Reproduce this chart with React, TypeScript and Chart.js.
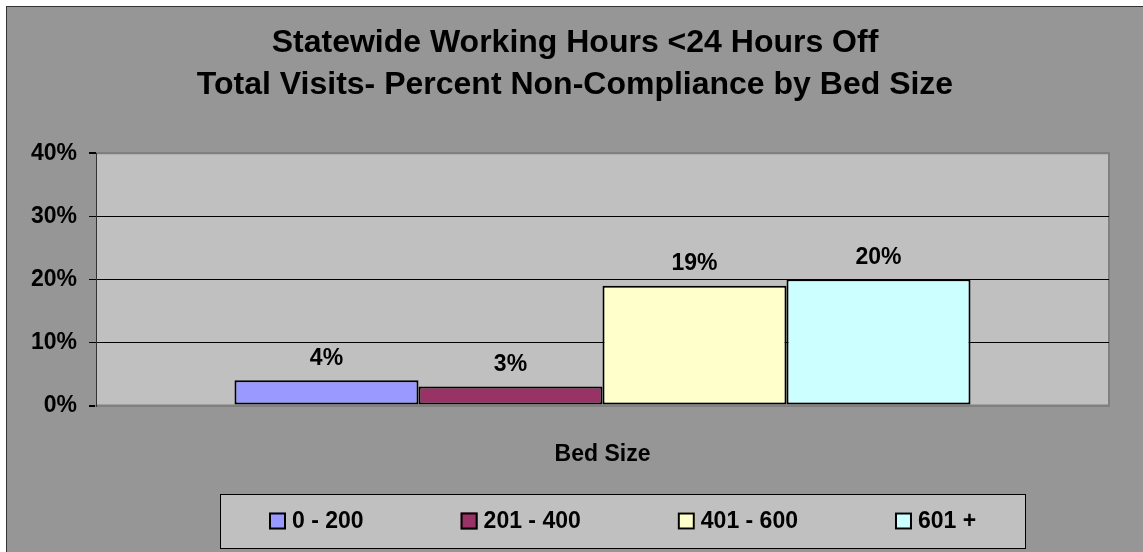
import React, { useEffect, useRef } from "react";
import { Chart, registerables } from "chart.js";

Chart.register(...registerables);

const titleLines = ["Statewide Working Hours <24 Hours Off", "Total Visits- Percent Non-Compliance by Bed Size"];
const categories = [""];
const xAxisTitle = "Bed Size";
const seriesLabels = ["0 - 200", "201 - 400", "401 - 600", "601 +"];
const seriesValues = [4, 3, 19, 20];
const seriesColors = ["#9999FF", "#993366", "#FFFFCC", "#CCFFFF"];
const yMin = 0;
const yMax = 40;
const yStep = 10;

const FONT = "'Liberation Sans', Arial, Helvetica, sans-serif";

const plotBgPlugin = {
  id: "plotBg",
  beforeDraw(chart: any) {
    const { ctx, chartArea: a } = chart;
    ctx.save();
    ctx.fillStyle = "#C0C0C0";
    ctx.fillRect(a.left, a.top, a.right - a.left, a.bottom - a.top);
    ctx.strokeStyle = "#808080";
    ctx.lineWidth = 2;
    ctx.beginPath();
    ctx.moveTo(a.left, a.top);
    ctx.lineTo(a.right, a.top);
    ctx.lineTo(a.right, a.bottom);
    ctx.lineTo(a.left, a.bottom);
    ctx.stroke();
    ctx.restore();
  },
};

const valueLabelPlugin = {
  id: "valueLabels",
  afterDatasetsDraw(chart: any) {
    const { ctx } = chart;
    ctx.save();
    ctx.font = `bold 23px ${FONT}`;
    ctx.fillStyle = "#000";
    ctx.textAlign = "center";
    ctx.textBaseline = "middle";
    chart.data.datasets.forEach((ds: any, i: number) => {
      const meta = chart.getDatasetMeta(i);
      meta.data.forEach((el: any, j: number) => {
        ctx.fillText(`${ds.data[j]}%`, el.x, el.y - 22);
      });
    });
    ctx.restore();
  },
};

const boxLegendPlugin = {
  id: "boxLegend",
  afterDraw(chart: any) {
    const { ctx } = chart;
    const sw = 17;
    const swGap = 6;
    const itemGap = 97;
    const pad = 49;
    const cx = 615;
    const cy = 514;
    const boxTop = 487;
    const boxH = 54;
    ctx.save();
    ctx.font = `bold 23px ${FONT}`;
    const items = chart.data.datasets.map((ds: any) => {
      const w = ctx.measureText(ds.label).width;
      return { label: ds.label, color: ds.backgroundColor, w: sw + swGap + w };
    });
    const content = items.reduce((s: number, it: any) => s + it.w, 0) + itemGap * (items.length - 1);
    const boxW = Math.round(content + pad * 2);
    const bx = Math.round(cx - boxW / 2);
    ctx.fillStyle = "#C0C0C0";
    ctx.fillRect(bx, boxTop, boxW, boxH);
    ctx.strokeStyle = "#000";
    ctx.lineWidth = 1;
    ctx.strokeRect(bx + 0.5, boxTop + 0.5, boxW, boxH);
    let x = bx + pad;
    items.forEach((it: any) => {
      ctx.fillStyle = it.color;
      ctx.fillRect(x, cy - sw / 2, sw, sw);
      ctx.strokeStyle = "#000";
      ctx.lineWidth = 2;
      ctx.strokeRect(x + 1, cy - sw / 2 + 1, sw - 2, sw - 2);
      ctx.fillStyle = "#000";
      ctx.textAlign = "left";
      ctx.textBaseline = "middle";
      ctx.fillText(it.label, x + sw + swGap, cy + 1);
      x += it.w + itemGap;
    });
    ctx.restore();
  },
};

export default function App() {
  const ref = useRef<HTMLCanvasElement | null>(null);

  useEffect(() => {
    if (!ref.current) return;
    const chart = new Chart(ref.current, {
      type: "bar",
      data: {
        labels: categories,
        datasets: seriesLabels.map((label, i) => ({
          label,
          data: [seriesValues[i]],
          backgroundColor: seriesColors[i],
          borderColor: "#000",
          borderWidth: 2,
          borderSkipped: false,
          categoryPercentage: 0.7266,
          barPercentage: 1.0,
        })),
      },
      options: {
        responsive: false,
        animation: false,
        devicePixelRatio: 1,
        layout: { padding: 0 },
        plugins: {
          legend: { display: false },
          tooltip: { enabled: false },
          title: {
            display: true,
            text: titleLines,
            color: "#000",
            font: { family: FONT, size: 32, weight: "bold", lineHeight: 1.3 },
            padding: { top: 15.5, bottom: 47.5 },
          },
        },
        scales: {
          x: {
            grid: { display: false },
            border: { display: true, color: "#808080", width: 2 },
            ticks: { display: false },
            title: {
              display: true,
              text: xAxisTitle,
              color: "#000",
              font: { family: FONT, size: 23, weight: "bold", lineHeight: 1.2 },
              padding: { top: 0, bottom: 84 },
            },
            afterFit(scale: any) {
              scale.height = 146.5;
            },
          },
          y: {
            min: yMin,
            max: yMax,
            ticks: {
              stepSize: yStep,
              color: "#000",
              padding: 12,
              font: { family: FONT, size: 23, weight: "bold" },
              callback: (v: any) => `${v}%`,
            },
            grid: {
              color: (c: any) => (c.tick && (c.tick.value === yMin || c.tick.value === yMax) ? "#808080" : "#000"),
              lineWidth: (c: any) => (c.tick && (c.tick.value === yMin || c.tick.value === yMax) ? 2 : 1),
              tickColor: "#000",
              tickLength: 7,
              drawTicks: true,
            },
            border: { display: true, color: "#333", width: 1 },
            afterFit(scale: any) {
              scale.width = 89;
            },
          },
          yRight: {
            position: "right",
            display: true,
            grid: { display: false },
            ticks: { display: false },
            border: { display: false },
            afterFit(scale: any) {
              scale.width = 34;
            },
          },
        },
      },
      plugins: [plotBgPlugin, valueLabelPlugin, boxLegendPlugin],
    });
    return () => chart.destroy();
  }, []);

  return (
    <div
      style={{
        position: "fixed",
        left: 6,
        top: 6,
        width: 1137,
        height: 546,
        boxSizing: "border-box",
        borderLeft: "1px solid #333",
        borderTop: "1px solid #333",
        background: "#969696",
        overflow: "hidden",
      }}
    >
      <canvas ref={ref} width={1136} height={545} style={{ display: "block", width: 1136, height: 545 }} />
    </div>
  );
}
